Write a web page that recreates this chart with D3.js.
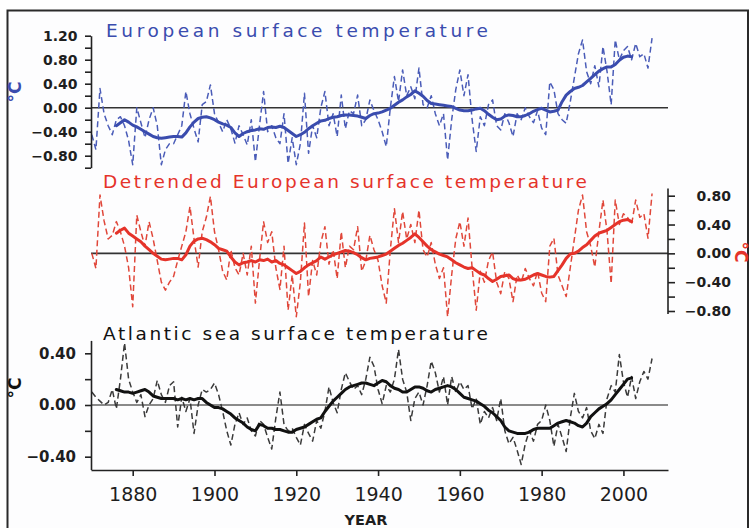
<!DOCTYPE html>
<html>
<head>
<meta charset="utf-8">
<script src="https://cdn.jsdelivr.net/npm/d3@7/dist/d3.min.js"></script>
<style>
  html, body { margin: 0; padding: 0; background: #ffffff; }
  svg { display: block; }
</style>
</head>
<body>
<svg id="chart" width="751" height="528"></svg>
<script>
// ---- Data ----------------------------------------------------------------
// Annual anomalies (°C), 1870-2007
const annualStart = 1870;
const europeAnnual = [
  -0.45,-0.70,0.32,-0.10,-0.30,-0.45,-0.20,-0.15,-0.30,-0.55,
  -0.95,0.00,-0.25,-0.50,-0.20,0.00,-0.30,-0.95,-0.70,-0.60,
  -0.60,-0.45,-0.30,0.27,-0.10,-0.35,-0.57,0.05,0.10,0.38,
  -0.10,-0.25,-0.40,-0.20,-0.35,-0.59,-0.30,-0.45,-0.62,-0.20,
  -0.90,-0.30,0.27,-0.40,-0.30,-0.50,-0.60,-0.10,-0.93,-0.50,
  -0.95,-0.60,0.24,-0.76,-0.30,-0.50,0.00,0.27,-0.30,-0.10,
  -0.48,0.21,-0.35,-0.05,-0.10,0.21,-0.30,-0.20,0.13,-0.05,
  -0.20,-0.40,-0.65,0.00,0.52,0.10,0.63,0.20,0.35,0.15,
  0.66,0.05,0.00,0.20,-0.10,-0.30,-0.10,-0.87,-0.20,0.30,
  0.63,0.20,0.55,-0.20,-0.73,-0.15,-0.30,0.05,0.13,-0.30,
  -0.37,-0.10,-0.25,-0.48,-0.10,-0.20,0.00,-0.15,-0.25,-0.05,
  -0.34,-0.45,0.43,0.30,-0.10,-0.20,-0.26,0.10,0.50,0.90,
  1.13,0.60,0.40,0.70,0.35,1.02,0.60,0.05,1.13,0.80,
  0.95,1.02,0.80,1.07,0.85,0.90,0.66,1.16
];
const detrendedAnnual = [
  0.00,-0.21,0.81,0.45,0.20,0.25,0.44,0.30,0.10,-0.20,
  -0.74,0.53,0.30,0.10,0.44,0.20,-0.10,-0.40,-0.51,-0.40,
  -0.32,-0.10,0.10,0.30,0.65,0.20,-0.19,0.30,0.50,0.79,
  0.30,0.05,-0.25,-0.37,0.05,-0.20,-0.30,0.00,-0.30,0.10,
  -0.69,-0.10,0.44,0.15,0.30,-0.20,-0.50,0.10,-0.79,-0.30,
  -0.88,-0.40,0.42,-0.60,-0.10,-0.30,0.15,0.37,-0.15,0.05,
  -0.35,0.30,-0.20,0.10,0.05,0.37,-0.25,-0.10,0.25,0.05,
  -0.10,-0.45,-0.69,0.05,0.62,0.15,0.58,0.20,0.40,0.15,
  0.60,0.05,-0.05,0.15,-0.15,-0.35,-0.20,-0.88,-0.30,0.20,
  0.44,0.10,0.49,-0.20,-0.79,-0.25,-0.40,-0.10,0.02,-0.40,
  -0.56,-0.25,-0.35,-0.67,-0.30,-0.40,-0.21,-0.35,-0.45,-0.25,
  -0.55,-0.67,0.10,0.21,-0.30,-0.45,-0.60,-0.20,0.20,0.60,
  0.81,0.30,0.10,-0.19,0.30,0.74,0.30,-0.42,0.74,0.40,
  0.55,0.50,0.40,0.74,0.50,0.55,0.21,0.83
];
const atlanticAnnual = [
  0.10,0.06,0.03,0.00,0.02,0.12,-0.03,0.20,0.48,0.20,
  0.10,0.02,0.08,-0.09,0.00,0.05,0.19,0.08,0.02,0.15,
  0.18,-0.17,0.06,-0.05,0.05,-0.22,0.00,0.12,0.10,0.12,
  0.17,0.08,-0.05,-0.20,-0.31,-0.15,-0.06,-0.15,-0.10,-0.20,
  -0.24,-0.12,-0.15,-0.25,-0.34,-0.10,0.10,-0.15,-0.20,-0.18,
  -0.25,-0.31,-0.15,-0.22,-0.28,-0.12,-0.18,-0.05,0.14,0.02,
  -0.06,0.12,0.25,0.18,0.12,0.15,0.08,0.20,0.37,0.30,
  0.12,0.01,0.15,0.10,0.20,0.43,0.20,0.10,-0.12,0.05,
  0.10,0.00,0.15,0.34,0.25,0.10,0.22,0.00,0.22,0.10,
  0.18,0.12,0.15,-0.03,0.05,-0.15,-0.05,-0.10,-0.02,-0.12,
  0.05,-0.20,-0.30,-0.25,-0.35,-0.46,-0.30,-0.20,-0.28,-0.15,
  -0.12,0.00,-0.12,-0.32,-0.15,-0.25,-0.36,-0.10,0.09,-0.05,
  -0.10,-0.02,-0.20,-0.26,-0.15,-0.22,0.05,0.15,0.10,0.39,
  0.18,0.06,0.22,0.05,0.18,0.26,0.20,0.36
];

// Running-mean curves (°C), 1876-2002
const smoothStart = 1876;
const europeSmooth = [
  -0.30,-0.25,-0.20,-0.24,
  -0.29,-0.32,-0.36,-0.40,-0.44,-0.48,-0.50,-0.51,-0.50,-0.49,
  -0.48,-0.48,-0.49,-0.42,-0.32,-0.24,-0.18,-0.16,-0.15,-0.17,
  -0.20,-0.24,-0.27,-0.29,-0.33,-0.42,-0.48,-0.43,-0.40,-0.38,
  -0.37,-0.35,-0.36,-0.33,-0.32,-0.33,-0.31,-0.33,-0.38,-0.43,
  -0.48,-0.45,-0.41,-0.35,-0.30,-0.26,-0.22,-0.21,-0.18,-0.16,
  -0.15,-0.13,-0.12,-0.12,-0.13,-0.14,-0.16,-0.18,-0.13,-0.10,
  -0.09,-0.07,-0.04,-0.01,0.04,0.09,0.13,0.18,0.22,0.28,
  0.24,0.19,0.12,0.07,0.06,0.05,0.04,0.03,0.02,-0.01,
  -0.04,-0.05,-0.05,-0.04,-0.02,-0.01,-0.05,-0.11,-0.16,-0.20,
  -0.19,-0.14,-0.12,-0.13,-0.15,-0.15,-0.13,-0.10,-0.06,-0.03,
  -0.01,-0.04,-0.07,-0.06,-0.04,0.10,0.21,0.27,0.32,0.34,
  0.37,0.43,0.49,0.55,0.61,0.65,0.68,0.68,0.72,0.79,
  0.84,0.86,0.85
];
const detrendedSmooth = [
  0.28,0.32,0.35,0.28,
  0.24,0.20,0.16,0.10,0.05,0.00,-0.04,-0.08,-0.09,-0.08,
  -0.07,-0.07,-0.09,-0.02,0.10,0.17,0.20,0.21,0.19,0.16,
  0.12,0.07,0.05,0.03,-0.05,-0.12,-0.16,-0.13,-0.12,-0.10,
  -0.12,-0.09,-0.10,-0.08,-0.12,-0.10,-0.14,-0.16,-0.20,-0.24,
  -0.28,-0.25,-0.20,-0.16,-0.13,-0.10,-0.05,-0.08,-0.05,-0.02,
  0.00,0.02,0.04,0.03,0.01,-0.02,-0.06,-0.09,-0.07,-0.06,
  -0.05,-0.03,-0.01,0.03,0.07,0.11,0.14,0.18,0.22,0.27,
  0.22,0.16,0.10,0.05,0.02,-0.01,-0.03,-0.05,-0.09,-0.13,
  -0.16,-0.19,-0.21,-0.20,-0.24,-0.28,-0.30,-0.35,-0.39,-0.36,
  -0.32,-0.31,-0.30,-0.35,-0.37,-0.37,-0.36,-0.33,-0.30,-0.28,
  -0.30,-0.32,-0.33,-0.32,-0.24,-0.16,-0.07,-0.01,0.00,0.03,
  0.08,0.12,0.18,0.24,0.28,0.30,0.32,0.36,0.40,0.44,
  0.46,0.47,0.44
];
const atlanticSmooth = [
  0.12,0.11,0.10,0.10,
  0.09,0.10,0.11,0.12,0.10,0.07,0.06,0.05,0.05,0.05,
  0.05,0.04,0.05,0.04,0.05,0.04,0.05,0.05,0.02,0.00,
  -0.02,-0.02,-0.03,-0.05,-0.07,-0.10,-0.12,-0.14,-0.17,-0.19,
  -0.20,-0.15,-0.16,-0.18,-0.18,-0.19,-0.19,-0.20,-0.21,-0.21,
  -0.19,-0.18,-0.17,-0.15,-0.13,-0.11,-0.10,-0.05,-0.01,0.03,
  0.06,0.09,0.12,0.14,0.15,0.16,0.17,0.17,0.16,0.15,
  0.17,0.19,0.18,0.15,0.13,0.12,0.10,0.10,0.12,0.14,
  0.14,0.13,0.11,0.10,0.12,0.13,0.14,0.15,0.14,0.12,
  0.09,0.06,0.05,0.04,0.03,0.01,-0.01,-0.04,-0.06,-0.09,
  -0.12,-0.17,-0.20,-0.21,-0.22,-0.22,-0.22,-0.21,-0.19,-0.18,
  -0.18,-0.18,-0.18,-0.16,-0.14,-0.13,-0.12,-0.13,-0.14,-0.16,
  -0.17,-0.14,-0.09,-0.06,-0.03,-0.01,0.01,0.04,0.08,0.12,
  0.16,0.20,0.21
];

// Axis ticks and labels
const yearTicks = [1880, 1900, 1920, 1940, 1960, 1980, 2000];
const europeTicks = [-1.0, -0.8, -0.6, -0.4, -0.2, 0.0, 0.2, 0.4, 0.6, 0.8, 1.0, 1.2];
const europeLabels = [-0.8, -0.4, 0.0, 0.4, 0.8, 1.2];
const detrendedTicks = [-0.8, -0.6, -0.4, -0.2, 0.0, 0.2, 0.4, 0.6, 0.8];
const detrendedLabels = [-0.8, -0.4, 0.0, 0.4, 0.8];
const atlanticTicks = [-0.4, -0.2, 0.0, 0.2, 0.4];
const atlanticLabels = [-0.4, 0.0, 0.4];

const titles = {
  europe: "European surface temperature",
  detrended: "Detrended European surface temperature",
  atlantic: "Atlantic sea surface temperature"
};

// ---- Drawing -------------------------------------------------------------
const svg = d3.select("#chart");
const FONT = "'DejaVu Sans', Verdana, sans-serif";
const BLUE = "#3a4cae", RED = "#e5332a", BLACK = "#111111";

svg.append("rect").attr("width", 751).attr("height", 528).attr("fill", "#ffffff");
svg.append("rect")
  .attr("x", 7.5).attr("y", 10.5).attr("width", 740.5).attr("height", 540)
  .attr("fill", "#fdfdfe").attr("stroke", "#2a2a2a").attr("stroke-width", 2);

const x = d3.scaleLinear().domain([1869.8, 2010.9]).range([91, 668]);
const yTop = d3.scaleLinear().domain([-1.0, 1.2]).range([167.7, 35.7]);
const yMid = d3.scaleLinear().domain([-0.8, 0.8]).range([311, 195.7]);
const yBot = d3.scaleLinear().domain([-0.5, 0.5]).range([469.6, 340.4]);

const fmt = d3.format(".2f");
const annual = arr => arr.map((v, i) => [annualStart + i, v]);
const smooth = arr => arr.map((v, i) => [smoothStart + i, v]);

function zeroLine(y, color, width) {
  svg.append("line")
    .attr("x1", 91).attr("x2", 668)
    .attr("y1", y(0)).attr("y2", y(0))
    .attr("stroke", color).attr("stroke-width", width);
}

function series(y, annualVals, smoothVals, dashColor, lineColor) {
  const line = d3.line().x(d => x(d[0])).y(d => y(d[1]));
  svg.append("path")
    .attr("d", line(annual(annualVals)))
    .attr("fill", "none").attr("stroke", dashColor)
    .attr("stroke-width", 1.5).attr("stroke-dasharray", "6,3.5")
    .attr("stroke-linejoin", "round");
  svg.append("path")
    .attr("d", line(smooth(smoothVals)))
    .attr("fill", "none").attr("stroke", lineColor)
    .attr("stroke-width", 3).attr("stroke-linejoin", "round")
    .attr("stroke-linecap", "round");
}

function styleAxis(g, size) {
  g.selectAll("text")
    .attr("font-family", FONT).attr("font-size", size)
    .attr("font-weight", "bold").attr("fill", "#1e1e1e");
  g.selectAll("line").attr("stroke", "#222").attr("stroke-width", 1.6);
  g.select(".domain").attr("stroke", "#222").attr("stroke-width", 1.6);
}

function title(text, xStart, xEnd, baseline, color) {
  svg.append("text")
    .attr("x", xStart).attr("y", baseline)
    .attr("font-family", FONT).attr("font-size", 18.5)
    .attr("fill", color)
    .attr("textLength", xEnd - xStart).attr("lengthAdjust", "spacing")
    .text(text);
}

function unit(cx, cy, angle, color) {
  svg.append("text")
    .attr("transform", `translate(${cx},${cy}) rotate(${angle})`)
    .attr("text-anchor", "middle").attr("dy", "0.36em")
    .attr("font-family", FONT).attr("font-size", 17).attr("font-weight", "bold")
    .attr("fill", color)
    .text("°C");
}

// Panel 1: European surface temperature
zeroLine(yTop, "#333", 1.6);
series(yTop, europeAnnual, europeSmooth, "#4a5cb8", BLUE);
const axTop = svg.append("g").attr("transform", "translate(91,0)")
  .call(d3.axisLeft(yTop).tickValues(europeTicks).tickSize(6).tickSizeOuter(0).tickPadding(7.5)
    .tickFormat(d => europeLabels.some(v => Math.abs(v - d) < 1e-6) ? fmt(d) : ""));
styleAxis(axTop, 14);
title(titles.europe, 106, 488, 37, BLUE);
unit(15, 92, -90, BLUE);

// Panel 2: detrended European surface temperature
zeroLine(yMid, "#333", 1.6);
series(yMid, detrendedAnnual, detrendedSmooth, "#e0473a", RED);
const axMid = svg.append("g").attr("transform", "translate(668,0)")
  .call(d3.axisRight(yMid).tickValues(detrendedTicks).tickSize(7).tickSizeOuter(0)
    .tickFormat(d => detrendedLabels.some(v => Math.abs(v - d) < 1e-6) ? fmt(d) : ""));
axMid.select(".domain").remove();
axMid.append("line").attr("class", "domain")
  .attr("x1", 0).attr("x2", 0).attr("y1", yMid(0.9)).attr("y2", yMid(-0.84));
axMid.selectAll(".tick text").attr("text-anchor", "end").attr("x", 63);
styleAxis(axMid, 14);
title(titles.detrended, 103, 587, 187.5, RED);
unit(741, 252, 90, RED);

// Panel 3: Atlantic sea surface temperature
zeroLine(yBot, "#8a8a8a", 2);
series(yBot, atlanticAnnual, atlanticSmooth, "#3a3a3a", BLACK);
const axBot = svg.append("g").attr("transform", "translate(91,0)")
  .call(d3.axisLeft(yBot).tickValues(atlanticTicks).tickSize(6).tickSizeOuter(0).tickPadding(9)
    .tickFormat(d => atlanticLabels.some(v => Math.abs(v - d) < 1e-6) ? fmt(d) : ""));
styleAxis(axBot, 15);
const axX = svg.append("g").attr("transform", "translate(0,470)")
  .call(d3.axisBottom(x).tickValues(yearTicks).tickSize(6).tickSizeOuter(0).tickPadding(11.5)
    .tickFormat(d3.format("d")));
styleAxis(axX, 19);
axX.selectAll("text").attr("font-weight", "normal");
title(titles.atlantic, 103, 488, 339.5, BLACK);
unit(15, 388, -90, BLACK);

svg.append("text")
  .attr("x", 366).attr("y", 525).attr("text-anchor", "middle")
  .attr("font-family", FONT).attr("font-size", 14.5).attr("font-weight", "bold")
  .attr("fill", "#1e1e1e")
  .text("YEAR");
</script>
</body>
</html>
